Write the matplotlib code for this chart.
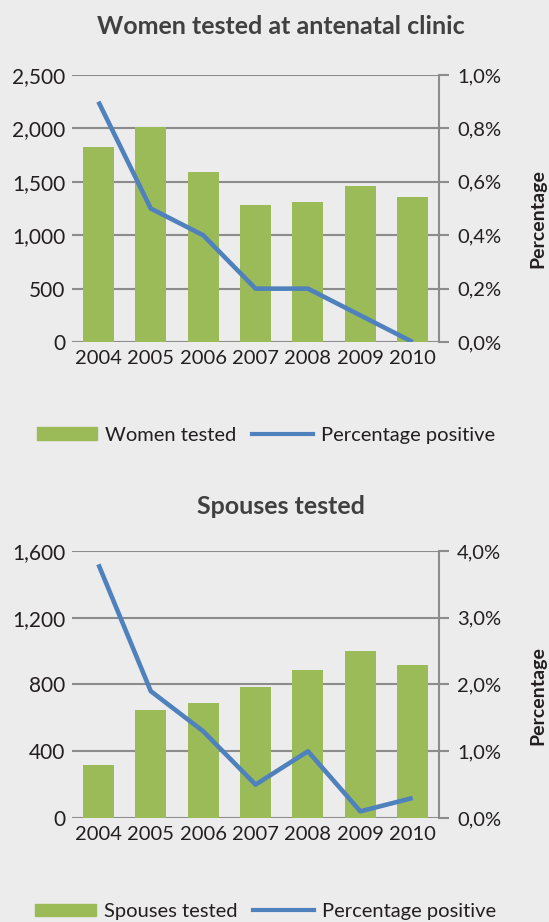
import numpy as np
import matplotlib
matplotlib.use('Agg')
from matplotlib import pyplot as plt
from matplotlib.ticker import FuncFormatter
from matplotlib.patches import Patch
from matplotlib.lines import Line2D

years = ['2004', '2005', '2006', '2007', '2008', '2009', '2010']
women_tested = [1830, 2010, 1590, 1280, 1315, 1465, 1355]
women_pct = [0.9, 0.5, 0.4, 0.2, 0.2, 0.1, 0.0]
spouses_tested = [315, 645, 690, 785, 885, 1000, 915]
spouses_pct = [3.8, 1.9, 1.3, 0.5, 1.0, 0.1, 0.3]

BG = '#ececec'
GREEN = '#9bbb59'
BLUE = '#4f81bd'
GRID = '#8c8c8c'
TXT = '#231f20'

plt.rcParams['font.family'] = ['Lato', 'DejaVu Sans']

fig = plt.figure(figsize=(5.49, 9.22), dpi=100, facecolor=BG)


def panel(rect, counts, pct, ymax, ystep, pmax, pstep, title, title_y, label, pct_y, leg_y):
    ax = fig.add_axes(rect)
    ax.set_facecolor(BG)
    x = np.arange(len(years))
    ax.bar(x, counts, width=0.59, color=GREEN, zorder=2)
    ax.set_xlim(-0.5, len(years) - 0.5)
    ax.set_ylim(0, ymax)
    ax.set_yticks(np.arange(0, ymax + 1, ystep))
    ax.yaxis.set_major_formatter(FuncFormatter(lambda v, p: f'{int(v):,}'))
    ax.set_xticks(x)
    ax.set_xticklabels(years)
    ax.grid(axis='y', color=GRID, linewidth=1.5, zorder=0)
    ax.set_axisbelow(True)
    for s in ax.spines.values():
        s.set_visible(False)
    ax.tick_params(axis='both', length=0, labelsize=14.5, colors=TXT, pad=6)
    ax.tick_params(axis='y', labelsize=15, pad=5)

    ax2 = ax.twinx()
    ax2.plot(x, pct, color=BLUE, linewidth=3.3, solid_capstyle='butt')
    ax2.set_ylim(0, pmax)
    ax2.set_yticks(np.arange(0, pmax + 0.001, pstep))
    ax2.yaxis.set_major_formatter(FuncFormatter(lambda v, p: f'{v:.1f}%'.replace('.', ',')))
    for s in ['top', 'left', 'bottom']:
        ax2.spines[s].set_visible(False)
    ax2.spines['right'].set_color(GRID)
    ax2.spines['right'].set_linewidth(1.5)
    ax2.tick_params(axis='y', length=7, width=1.5, color=GRID, labelsize=14.5, labelcolor=TXT, pad=6)

    fig.text(0.512, title_y, title, ha='center', va='baseline', fontsize=18,
             fontweight='bold', color='#404040')
    fig.text(0.98, pct_y, 'Percentage', rotation=90, ha='center',
             va='center', fontsize=14, fontweight='bold', color=TXT)

    handles = [Patch(color=GREEN), Line2D([0], [0], color=BLUE, linewidth=3)]
    fig.legend(handles, [label, 'Percentage positive'], loc='center',
               bbox_to_anchor=(0.484, leg_y), ncol=2, frameon=False, fontsize=14.5,
               handlelength=3.0, handleheight=0.6, columnspacing=0.8, handletextpad=0.4,
               labelcolor=TXT)


panel([0.1315, 0.629, 0.668, 0.2897], women_tested, women_pct, 2500, 500, 1.0, 0.2,
      'Women tested at antenatal clinic', 0.963, 'Women tested', 0.763, 0.528)
panel([0.1315, 0.1128, 0.668, 0.2896], spouses_tested, spouses_pct, 1600, 400, 4.0, 1.0,
      'Spouses tested', 0.4425, 'Spouses tested', 0.246, 0.0112)

fig.savefig('out.png', dpi=100, facecolor=BG)
